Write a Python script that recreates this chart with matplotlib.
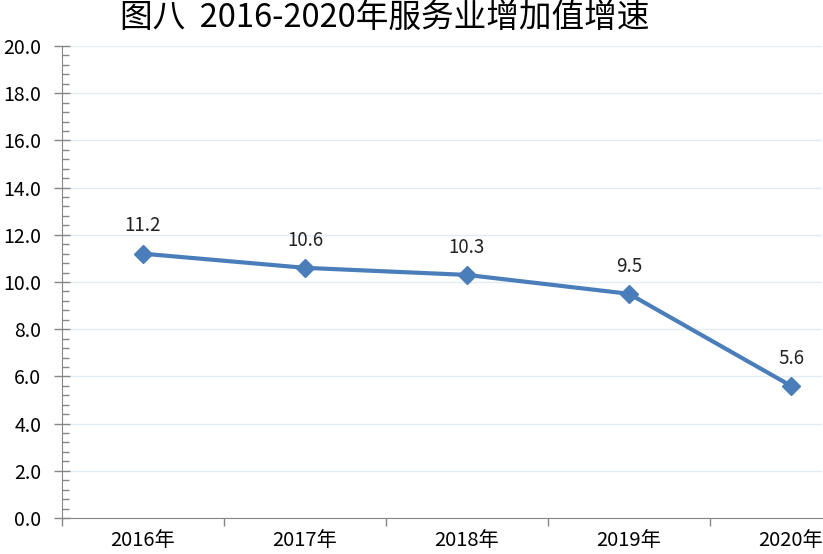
import matplotlib.pyplot as plt
from matplotlib.ticker import MultipleLocator

plt.rcParams['font.family'] = ['Noto Sans CJK SC', 'DejaVu Sans']

# 数据
years = ['2016年', '2017年', '2018年', '2019年', '2020年']
growth = [11.2, 10.6, 10.3, 9.5, 5.6]
title = '图八  2016-2020年服务业增加值增速'

fig = plt.figure(figsize=(8.23, 5.54), dpi=100)
ax = fig.add_axes([62 / 823, 1 - 518 / 554, 760 / 823, 472 / 554])

x = list(range(len(years)))
ax.plot(x, growth, color='#4a7ebb', linewidth=3, marker='D', markersize=9,
        markerfacecolor='#4a7ebb', markeredgecolor='#4a7ebb', zorder=3)
for xi, v in zip(x, growth):
    ax.annotate(f'{v:.1f}', (xi, v), xytext=(0, 20), textcoords='offset points',
                ha='center', va='center', fontsize=13.5, color='#222222')

ax.set_ylim(0, 20)
ax.set_xlim(-0.5, (822 - 62) / 162 - 0.5)
ax.yaxis.set_major_locator(MultipleLocator(2))
ax.yaxis.set_minor_locator(MultipleLocator(0.4))
ax.set_yticklabels([f'{v:.1f}' for v in ax.get_yticks()])
ax.tick_params(axis='y', which='major', direction='inout', length=12, width=1,
               color='#868686', labelsize=14, pad=9)
ax.tick_params(axis='y', which='minor', direction='in', length=5, width=1,
               color='#868686')

ax.set_xticks(x)
ax.set_xticklabels(years)
ax.set_xticks([i - 0.5 for i in range(len(years))], minor=True)
ax.tick_params(axis='x', which='major', length=0, labelsize=14.5, pad=9)
ax.tick_params(axis='x', which='minor', direction='out', length=6, width=1,
               color='#868686')

ax.grid(axis='y', color='#e3ebf5', linewidth=1)
ax.set_axisbelow(True)
for s in ['top', 'right']:
    ax.spines[s].set_visible(False)
for s in ['left', 'bottom']:
    ax.spines[s].set_color('#868686')

fig.text(385 / 823, 1 - 18 / 554, title, ha='center', va='center', fontsize=23.5)

fig.savefig('out.png', dpi=100)
